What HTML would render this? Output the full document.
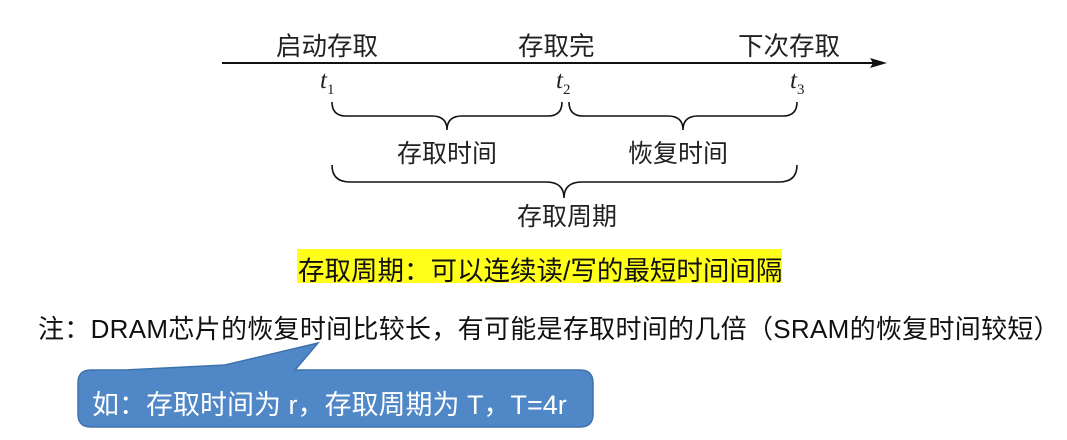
<!DOCTYPE html>
<html><head><meta charset="utf-8"><style>
body{margin:0;width:1067px;height:440px;background:#fff;overflow:hidden;position:relative;font-family:"Liberation Sans","Noto Sans CJK SC",sans-serif;}
.t{position:absolute;white-space:nowrap;color:#222;}
</style></head><body>
<svg width="1067" height="440" style="position:absolute;left:0;top:0">
<line x1="222" y1="63" x2="875" y2="63" stroke="#111" stroke-width="2"/>
<polygon points="887,63 870,58 873,63 870,68" fill="#111"/>
<g fill="none" stroke="#111" stroke-width="1.6">
<path d="M332,102 Q332,116 346,116 L432,116 Q447,116 447,130 Q447,116 462,116 L548,116 Q562,116 562,102"/>
<path d="M569,102 Q569,116 583,116 L668,116 Q683,116 683,130 Q683,116 698,116 L783,116 Q797,116 797,102"/>
<path d="M332,165 Q332,182 350,182 L546,182 Q564,182 564,198 Q564,182 582,182 L779,182 Q797,182 797,165"/>
</g>
<path d="M100,370 L125,370 L225,365 L318,343 L295,370 L580,370 Q593,370 593,383 L593,414 Q593,427 580,427 L91,427 Q78,427 78,414 L78,383 Q78,370 91,370 Z" fill="#4f87c7" stroke="#3e72ad" stroke-width="1.5"/>
<rect x="297" y="249" width="485" height="34" fill="#ffff1a"/>
</svg>
<div class="t" style="left:276px;top:26px;font-size:25.5px">启动存取</div>
<div class="t" style="left:518px;top:26px;font-size:25.5px">存取完</div>
<div class="t" style="left:738px;top:26px;font-size:25.5px">下次存取</div>
<div class="t" style="left:320px;top:67px;font-size:25px;font-family:'Liberation Serif',serif;font-style:italic">t<sub style="font-size:15px;font-style:normal">1</sub></div>
<div class="t" style="left:556px;top:67px;font-size:25px;font-family:'Liberation Serif',serif;font-style:italic">t<sub style="font-size:15px;font-style:normal">2</sub></div>
<div class="t" style="left:790px;top:67px;font-size:25px;font-family:'Liberation Serif',serif;font-style:italic">t<sub style="font-size:15px;font-style:normal">3</sub></div>
<div class="t" style="left:397px;top:134px;font-size:25px">存取时间</div>
<div class="t" style="left:628px;top:134px;font-size:25px">恢复时间</div>
<div class="t" style="left:517px;top:197px;font-size:25px">存取周期</div>
<div class="t" style="left:298px;top:249px;font-size:26.5px;color:#111">存取周期：可以连续读/写的最短时间间隔</div>
<div class="t" style="left:38px;top:309px;font-size:26px;color:#111;letter-spacing:0.3px">注：DRAM芯片的恢复时间比较长，有可能是存取时间的几倍（SRAM的恢复时间较短）</div>
<div class="t" style="left:92px;top:383px;font-size:27px;color:#fff">如：存取时间为 r，存取周期为 T，T=4r</div>
</body></html>
